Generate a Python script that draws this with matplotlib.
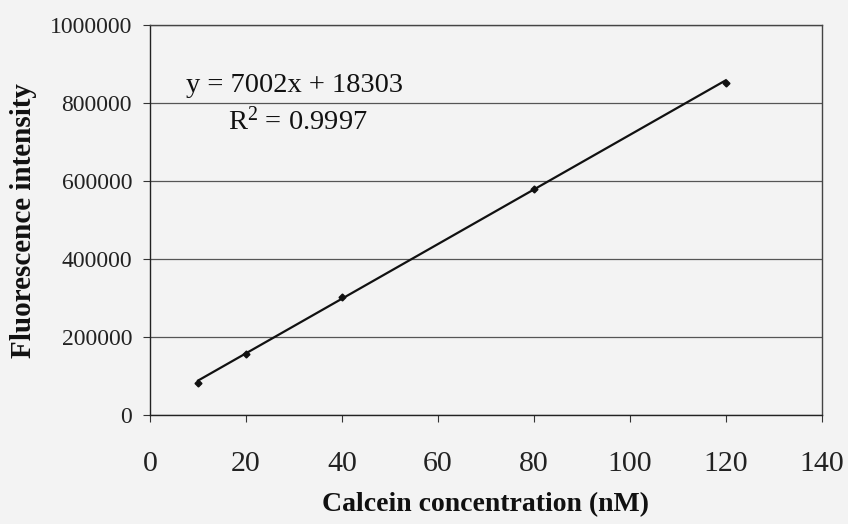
import numpy as np
import matplotlib
matplotlib.use("Agg")
from matplotlib import pyplot as plt
from matplotlib.ticker import FuncFormatter

# data
conc = [10, 20, 40, 80, 120]
intensity = [82000, 156000, 302000, 579000, 851000]
slope = 7002
intercept = 18303
r2 = 0.9997

x_ticks = [0, 20, 40, 60, 80, 100, 120, 140]
y_ticks = [0, 200000, 400000, 600000, 800000, 1000000]

plt.rcParams['font.family'] = ['Liberation Serif', 'DejaVu Serif']
plt.rcParams['mathtext.fontset'] = 'custom'
plt.rcParams['mathtext.rm'] = 'Liberation Serif'
plt.rcParams['mathtext.it'] = 'Liberation Serif:italic'

fig = plt.figure(figsize=(8.48, 5.24), dpi=100, facecolor='#f3f3f3')
ax = fig.add_axes([0.177, 0.208, 0.792, 0.744])
ax.set_facecolor('#f3f3f3')

# grid lines
for v in y_ticks:
    ax.axhline(v, color='#555555', lw=0.9, zorder=1)

# trend line + points
fit_x = np.array([conc[0], conc[-1]])
ax.plot(fit_x, slope * fit_x + intercept, color='#111111', lw=1.6, zorder=2)
ax.plot(conc, intensity, 'D', color='#111111', ms=3.5, zorder=3)

ax.set_xlim(0, 140)
ax.set_ylim(0, 1000000)
ax.set_xticks(x_ticks)
ax.set_yticks(y_ticks)
ax.yaxis.set_major_formatter(FuncFormatter(lambda v, p: '%d' % v))
ax.tick_params(axis='x', labelsize=21.5, direction='out', length=5, pad=21, color='#333333',
               labelcolor='#222222')
ax.tick_params(axis='y', labelsize=17, direction='out', length=5, pad=8, color='#333333',
               labelcolor='#222222')

for s in ax.spines.values():
    s.set_color('#444444')
    s.set_linewidth(1.0)
ax.spines['left'].set_color('#222222')
ax.spines['bottom'].set_color('#222222')

ax.set_xlabel('Calcein concentration (nM)', fontsize=20, fontweight='bold', labelpad=11,
              color='#111111')
ax.set_ylabel('Fluorescence intensity', fontsize=21, fontweight='bold', labelpad=9,
              color='#111111')

ax.text(7.5, 846000, 'y = %dx + %d' % (slope, intercept), fontsize=20.5, va='center',
        color='#111111')
ax.text(16.2, 752000, r'R$^{\mathrm{2}}$ = %.4f' % r2, fontsize=20.5, va='center',
        color='#111111')

fig.savefig('out.png', dpi=100, facecolor=fig.get_facecolor())
